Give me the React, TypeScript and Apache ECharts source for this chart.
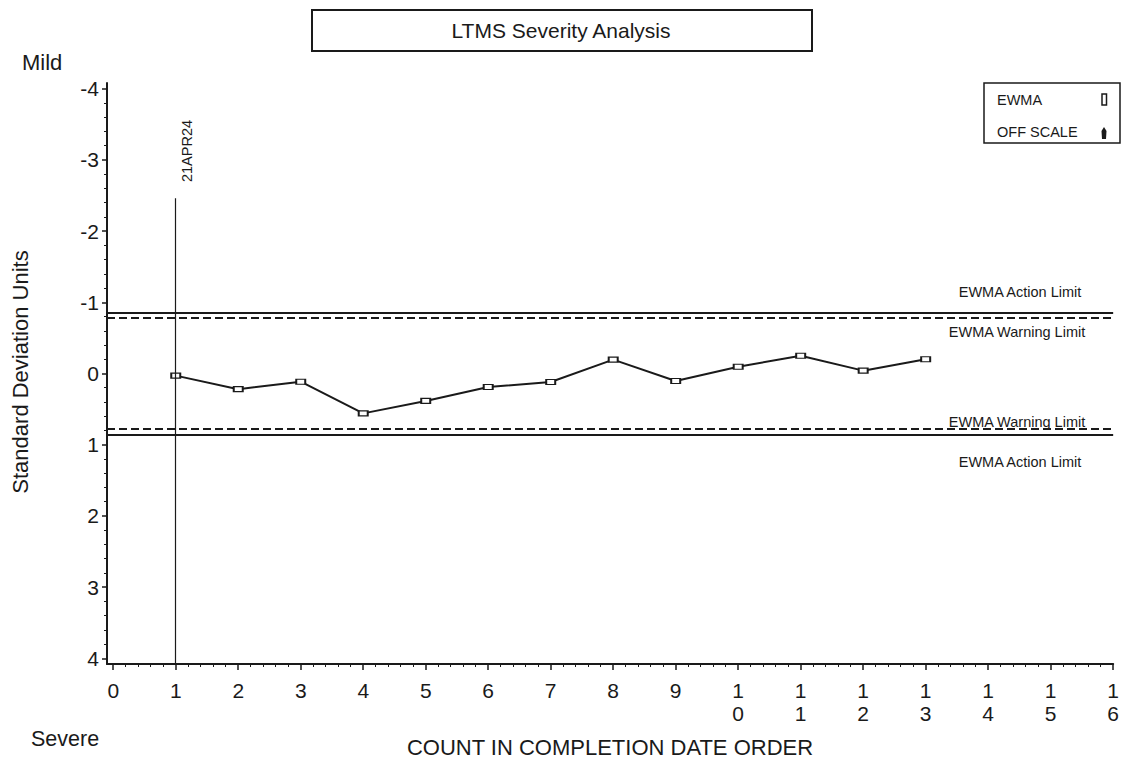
import React, { useEffect, useRef } from "react";
import * as echarts from "echarts";

const counts = [1, 2, 3, 4, 5, 6, 7, 8, 9, 10, 11, 12, 13];
const ewma = [0.03, 0.22, 0.115, 0.56, 0.385, 0.19, 0.12, -0.195, 0.105, -0.095, -0.25, -0.04, -0.2];
const xTicks = [0, 1, 2, 3, 4, 5, 6, 7, 8, 9, 10, 11, 12, 13, 14, 15, 16];
const yTicks = [-4, -3, -2, -1, 0, 1, 2, 3, 4];
const actionLimits = [-0.86, 0.86];
const warningLimits = [-0.775, 0.775];
const eventCount = 1;
const eventLabel = "21APR24";
const eventTop = -2.46;

const FONT = "Liberation Sans, Arial, sans-serif";
const INK = "#1a1a1a";

function minorValues(ticks: number[], step: number): number[] {
  const out: number[] = [];
  for (let i = 0; i < ticks.length - 1; i++) {
    for (let k = 1; k < 5; k++) out.push(+(ticks[i] + k * step).toFixed(2));
  }
  return out;
}

export default function App() {
  const ref = useRef<HTMLDivElement>(null);
  useEffect(() => {
    if (!ref.current) return;
    const chart = echarts.init(ref.current, null, { renderer: "svg" });
    const xMin = -0.1, xMax = 16, yMin = -4.08, yMax = 4.08;
    const grid = { left: 107, right: 6, top: 83, bottom: 95 };
    const txt = (x: number, y: number, text: string, size: number, extra: any = {}) => ({
      type: "text",
      x,
      y,
      style: { text, fill: INK, font: `${size}px ${FONT}`, align: "left", verticalAlign: "middle", ...extra },
    });
    chart.setOption({
      animation: false,
      backgroundColor: "#fff",
      grid,
      xAxis: [
        {
          type: "value",
          min: xMin,
          max: xMax,
          position: "bottom",
          splitLine: { show: false },
          axisLine: { show: true, onZero: false, lineStyle: { color: INK, width: 2 } },
          axisTick: { show: true, customValues: xTicks, length: 6, lineStyle: { color: INK, width: 1.5 } },
          axisLabel: {
            customValues: xTicks,
            color: INK,
            fontFamily: FONT,
            fontSize: 21,
            lineHeight: 23,
            margin: 15,
            verticalAlign: "top",
            formatter: (v: number) => String(v).split("").join("\n"),
          },
        },
        {
          type: "value",
          min: xMin,
          max: xMax,
          position: "bottom",
          splitLine: { show: false },
          axisLine: { show: false, onZero: false },
          axisTick: { show: true, customValues: minorValues(xTicks, 0.2), length: 3, lineStyle: { color: INK, width: 1 } },
          axisLabel: { show: false },
        },
      ],
      yAxis: [
        {
          type: "value",
          inverse: true,
          min: yMin,
          max: yMax,
          position: "left",
          splitLine: { show: false },
          axisLine: { show: true, onZero: false, lineStyle: { color: INK, width: 2 } },
          axisTick: { show: true, customValues: yTicks, length: 5, lineStyle: { color: INK, width: 1.5 } },
          axisLabel: { customValues: yTicks, color: INK, fontFamily: FONT, fontSize: 21, margin: 8 },
        },
        {
          type: "value",
          inverse: true,
          min: yMin,
          max: yMax,
          position: "left",
          splitLine: { show: false },
          axisLine: { show: false, onZero: false },
          axisTick: { show: true, customValues: minorValues(yTicks, 0.2), length: 3, lineStyle: { color: INK, width: 1 } },
          axisLabel: { show: false },
        },
      ],
      series: [
        {
          type: "line",
          data: counts.map((c, i) => [c, ewma[i]]),
          symbol: "rect",
          symbolSize: [9, 5],
          showAllSymbol: true,
          lineStyle: { color: INK, width: 2 },
          itemStyle: { color: "#fff", borderColor: INK, borderWidth: 1.5 },
          markLine: {
            silent: true,
            symbol: "none",
            label: { show: false },
            data: [
              ...actionLimits.map((v) => ({ yAxis: v, lineStyle: { type: "solid", color: INK, width: 2 } })),
              ...warningLimits.map((v) => ({ yAxis: v, lineStyle: { type: [8, 4], color: INK, width: 2 } })),
              [
                { coord: [eventCount, eventTop], lineStyle: { type: "solid", color: INK, width: 1.2 } },
                { coord: [eventCount, yMax] },
              ],
            ],
          },
        },
      ],
      graphic: [
        { type: "rect", shape: { x: 312, y: 10, width: 500, height: 41 }, style: { fill: "#fff", stroke: INK, lineWidth: 2 } },
        txt(561, 30, "LTMS Severity Analysis", 21, { align: "center" }),
        { type: "rect", shape: { x: 984, y: 83, width: 136, height: 60 }, style: { fill: "#fff", stroke: INK, lineWidth: 1.5 } },
        txt(997, 100, "EWMA", 14.5),
        { type: "rect", shape: { x: 1102, y: 94, width: 4.5, height: 11 }, style: { fill: "#fff", stroke: INK, lineWidth: 1.5 } },
        txt(997, 132, "OFF SCALE", 14.5),
        { type: "polygon", shape: { points: [[1104, 127], [1106.5, 131], [1106, 139], [1102, 139], [1101.5, 131]] }, style: { fill: INK } },
        txt(22, 62, "Mild", 22),
        txt(31, 739, "Severe", 21.5),
        txt(610, 747, "COUNT IN COMPLETION DATE ORDER", 22, { align: "center" }),
        { type: "text", x: 20, y: 372, rotation: Math.PI / 2, style: { text: "Standard Deviation Units", fill: INK, font: `22px ${FONT}`, align: "center", verticalAlign: "middle" } },
        { type: "text", x: 187, y: 151, rotation: Math.PI / 2, style: { text: eventLabel, fill: INK, font: `14.5px ${FONT}`, align: "center", verticalAlign: "middle" } },
        txt(1020, 292, "EWMA Action Limit", 14.5, { align: "center" }),
        txt(1017, 332, "EWMA Warning Limit", 14.5, { align: "center" }),
        txt(1017, 422, "EWMA Warning Limit", 14.5, { align: "center" }),
        txt(1020, 462, "EWMA Action Limit", 14.5, { align: "center" }),
      ],
    });
    return () => chart.dispose();
  }, []);
  return <div ref={ref} style={{ width: 1122, height: 759, position: "absolute", left: 0, top: 0 }} />;
}
